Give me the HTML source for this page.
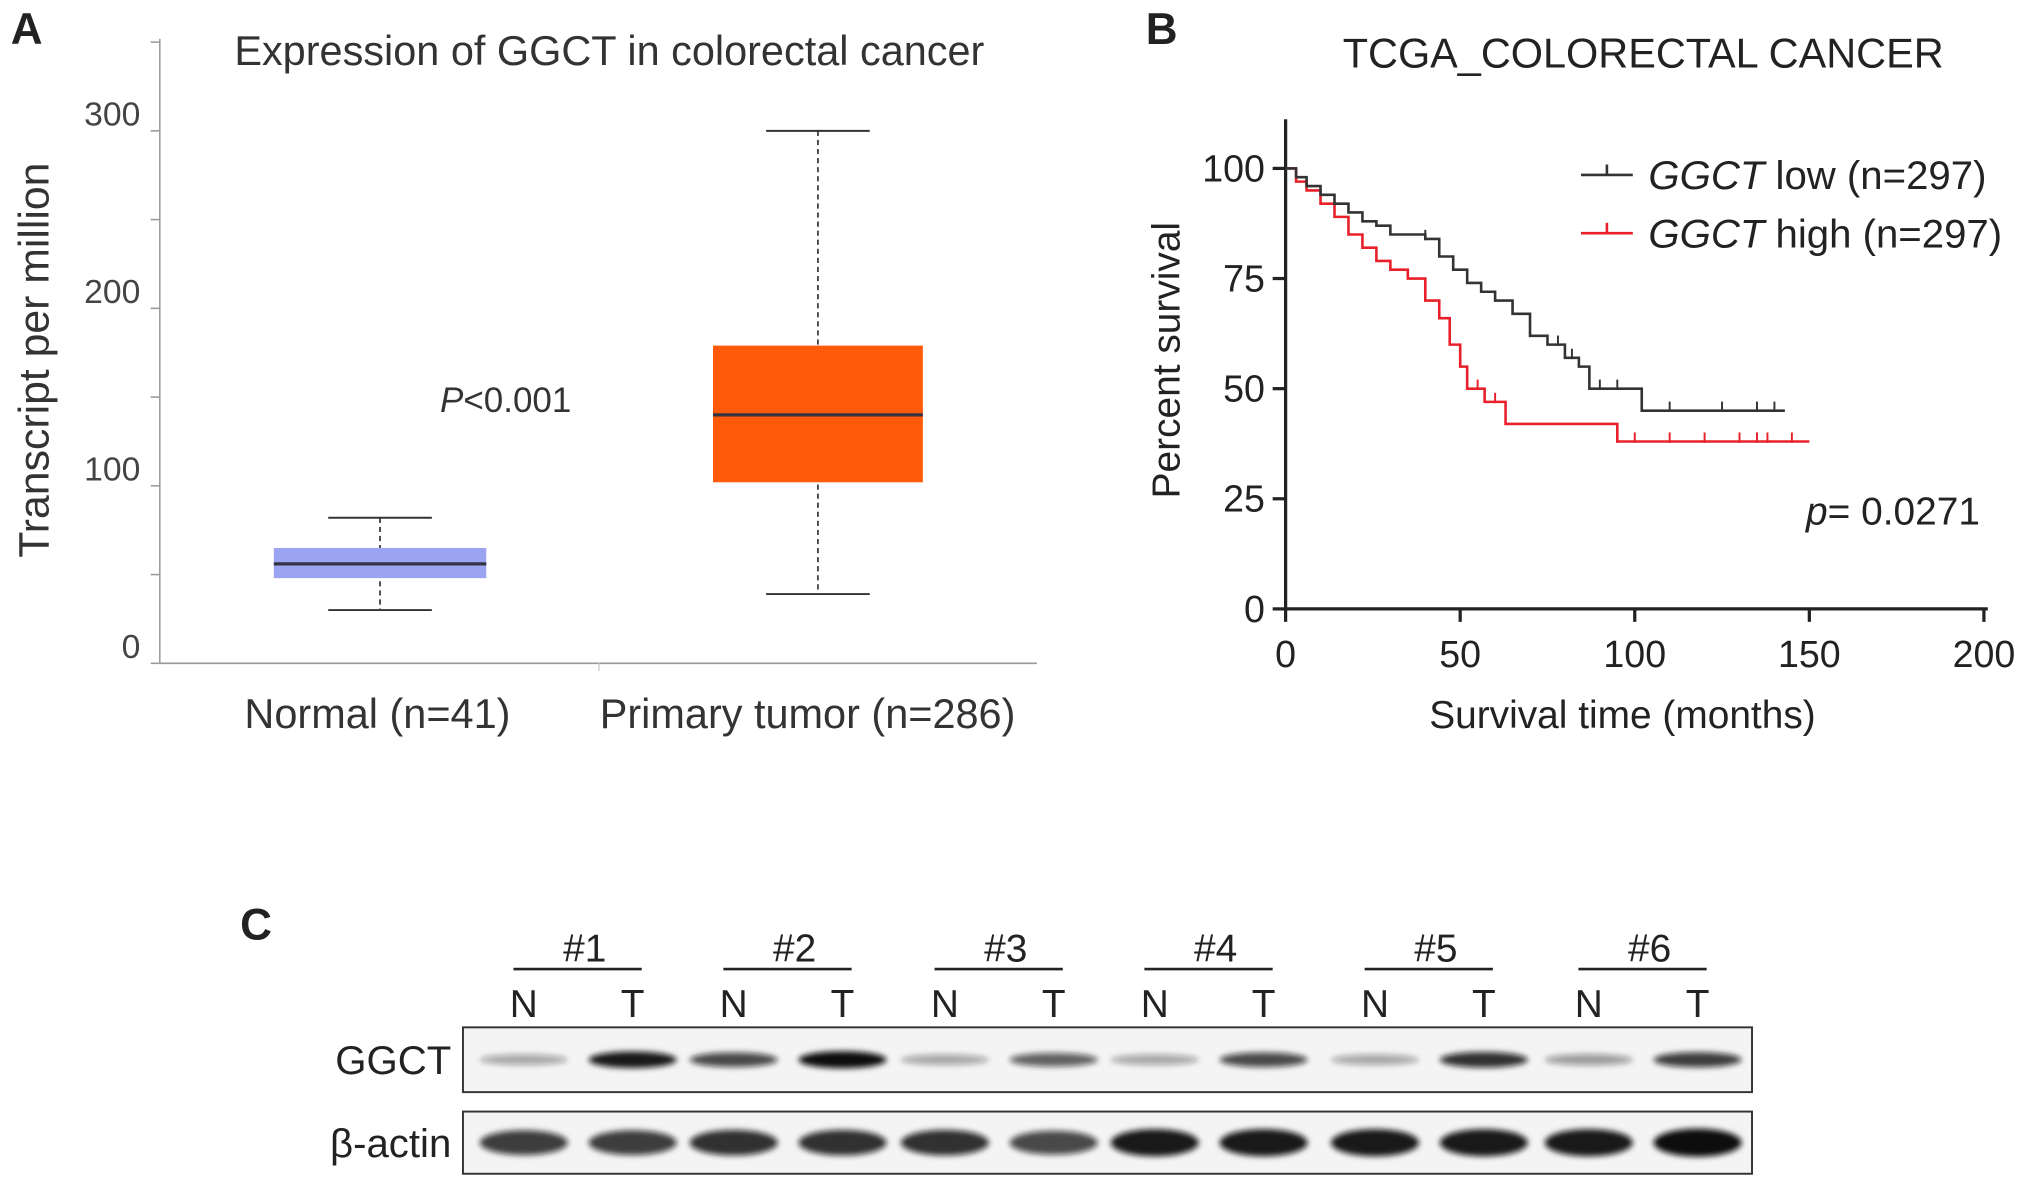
<!DOCTYPE html>
<html><head><meta charset="utf-8"><style>
html,body{margin:0;padding:0;background:#fff}
svg{display:block}
text{font-family:"Liberation Sans",sans-serif}
</style></head><body>
<svg id="fig" width="2031" height="1188" viewBox="0 0 1567 917">
<defs><filter id="blur" x="-20%" y="-100%" width="140%" height="300%"><feGaussianBlur stdDeviation="2.2"/></filter></defs>
<g id="pa"></g>
<g id="pb"></g>
<g id="pc"></g>
</svg>
<script>
// Panel A data
const boxCats = ["Normal (n=41)", "Primary tumor (n=286)"];
const boxMin = [30, 39];
const boxQ1 = [48, 102];
const boxMed = [56, 140];
const boxQ3 = [65, 179];
const boxMax = [82, 300];
const boxColors = ["#9aa4f0", "#ff5a0a"];
const aTicks = [0, 100, 200, 300];
// Panel B data
const lowT = [0,3,6,10,14,18,22,26,30,35,40,44,48,52,56,60,65,70,75,80,84,87,100,102,143];
const lowS = [100,98,96,94,92,90,88,87,85,85,84,80,77,74,72,70,67,62,60,57,55,50,50,45,45];
const highT = [0,3,6,10,14,18,22,26,30,35,40,44,47,50,52,57,63,93,95,150];
const highS = [100,97,95,92,89,85,82,79,77,75,70,66,60,55,50,47,42,42,38,38];
const lowCens = [40,60,70,78,82,90,95,110,125,135,140];
const highCens = [55,60,95,100,110,120,130,135,138,145];
const bxTicks = [0,50,100,150,200];
const byTicks = [0,25,50,75,100];
// Panel C data
const samples = ["#1","#2","#3","#4","#5","#6"];
const ggctN = [0.35,0.75,0.35,0.35,0.35,0.4];
const ggctT = [0.95,1.0,0.65,0.75,0.85,0.8];
const actinN = [0.8,0.85,0.85,0.95,0.95,0.95];
const actinT = [0.8,0.85,0.75,0.95,0.95,1.0];

const NS="http://www.w3.org/2000/svg";
function el(p,tag,attrs,txt){const e=document.createElementNS(NS,tag);for(const k in attrs)e.setAttribute(k,attrs[k]);if(txt!==undefined)e.textContent=txt;p.appendChild(e);return e;}

// ---- Panel A
const pa=document.getElementById('pa');
const ay=v=>512-v*1.37;
const ax=i=>293+i*338;
let t=el(pa,'text',{x:8,y:34,'font-size':34,'font-weight':'bold',fill:'#222'},'A');

t=el(pa,'text',{x:470,y:50,'font-size':32,'text-anchor':'middle',fill:'#333'},'Expression of GGCT in colorectal cancer');

el(pa,'line',{x1:123,y1:30,x2:123,y2:512,stroke:'#999','stroke-width':1.2});
el(pa,'line',{x1:123,y1:512,x2:800,y2:512,stroke:'#999','stroke-width':1.2});
el(pa,'line',{x1:462,y1:512,x2:462,y2:518,stroke:'#ccc','stroke-width':1});
for(let v=0;v<=350;v+=50){el(pa,'line',{x1:116,y1:ay(v),x2:123,y2:ay(v),stroke:'#999','stroke-width':1.2});}
aTicks.forEach(v=>{const e=el(pa,'text',{x:108,y:ay(v)-4,'font-size':26,'text-anchor':'end',fill:'#444'},String(v));
});
t=el(pa,'text',{x:0,y:0,'font-size':33,'text-anchor':'middle',fill:'#333',transform:'translate(37,278) rotate(-90)'},'Transcript per million');

t=el(pa,'text',{x:390,y:318,'font-size':27,'text-anchor':'middle',fill:'#333'});
t.innerHTML='<tspan font-style="italic">P</tspan>&lt;0.001';

boxCats.forEach((c,i)=>{
 const cx=ax(i),hw=i==0?82:81;
 const g=el(pa,'g',{});
 el(g,'line',{x1:cx,y1:ay(boxMax[i]),x2:cx,y2:ay(boxMin[i]),stroke:'#333','stroke-width':1.3,'stroke-dasharray':'4,3'});
 el(g,'line',{x1:cx-40,y1:ay(boxMax[i]),x2:cx+40,y2:ay(boxMax[i]),stroke:'#333','stroke-width':1.5});
 el(g,'line',{x1:cx-40,y1:ay(boxMin[i]),x2:cx+40,y2:ay(boxMin[i]),stroke:'#333','stroke-width':1.5});
 el(g,'rect',{x:cx-hw,y:ay(boxQ3[i]),width:2*hw,height:ay(boxQ1[i])-ay(boxQ3[i]),fill:boxColors[i]});
 el(g,'line',{x1:cx-hw,y1:ay(boxMed[i]),x2:cx+hw,y2:ay(boxMed[i]),stroke:'#334','stroke-width':2.5});
 const l=el(pa,'text',{x:i==0?cx-2:cx-8,y:562,'font-size':32,'text-anchor':'middle',fill:'#333'},c);
 
});

// ---- Panel B
const pb=document.getElementById('pb');
const bx=v=>992+v*2.695, by=v=>470-v*3.4;
t=el(pb,'text',{x:884,y:34,'font-size':34,'font-weight':'bold',fill:'#222'},'B');

t=el(pb,'text',{x:1268,y:52,'font-size':32,'text-anchor':'middle',fill:'#222'},'TCGA_COLORECTAL CANCER');

el(pb,'line',{x1:992,y1:92,x2:992,y2:471,stroke:'#222','stroke-width':2.5});
el(pb,'line',{x1:991,y1:470,x2:1534,y2:470,stroke:'#222','stroke-width':2.5});
byTicks.forEach(v=>{el(pb,'line',{x1:982,y1:by(v),x2:992,y2:by(v),stroke:'#222','stroke-width':2.5});
 const e=el(pb,'text',{x:976,y:by(v)+10,'font-size':29,'text-anchor':'end',fill:'#222'},String(v));
 });
bxTicks.forEach(v=>{el(pb,'line',{x1:bx(v),y1:470,x2:bx(v),y2:480,stroke:'#222','stroke-width':2.5});
 const e=el(pb,'text',{x:bx(v),y:515,'font-size':29,'text-anchor':'middle',fill:'#222'},String(v));
 });
t=el(pb,'text',{x:1252,y:562,'font-size':30,'text-anchor':'middle',fill:'#222'},'Survival time (months)');

t=el(pb,'text',{x:0,y:0,'font-size':30,'text-anchor':'middle',fill:'#222',transform:'translate(910,278) rotate(-90)'},'Percent survival');

function step(T,S){let d='M'+bx(T[0])+','+by(S[0]);for(let i=1;i<T.length;i++){d+='H'+bx(T[i])+'V'+by(S[i]);}return d;}
function survAt(T,S,x){let s=S[0];for(let i=0;i<T.length;i++){if(T[i]<=x)s=S[i];}return s;}
function curve(T,S,C,col,name){
 const g=el(pb,'g',{});
 el(g,'path',{d:step(T,S),fill:'none',stroke:col,'stroke-width':2});
 C.forEach(c=>{const y=by(survAt(T,S,c));el(g,'line',{x1:bx(c),y1:y-7,x2:bx(c),y2:y+1,stroke:col,'stroke-width':1.5});});
}
curve(highT,highS,highCens,'#e8202a','curve-ggct-high');
curve(lowT,lowS,lowCens,'#333','curve-ggct-low');
[['#333','low',135],['#e8202a','high',180]].forEach(([c,lab,y])=>{
 const g=el(pb,'g',{});
 el(g,'line',{x1:1220,y1:y,x2:1260,y2:y,stroke:c,'stroke-width':2});
 el(g,'line',{x1:1240,y1:y-8,x2:1240,y2:y,stroke:c,'stroke-width':2});
 const e=el(g,'text',{x:1272,y:y+11,'font-size':31,fill:'#222'});
 e.innerHTML='<tspan font-style="italic">GGCT</tspan> '+lab+' (n=297)';
});
t=el(pb,'text',{x:1528,y:405,'font-size':30,'text-anchor':'end',fill:'#222'});
t.innerHTML='<tspan font-style="italic">p</tspan>= 0.0271';


// ---- Panel C
const pc=document.getElementById('pc');
t=el(pc,'text',{x:185,y:725,'font-size':34,'font-weight':'bold',fill:'#222'},'C');

const groupX=[446,608,771,933,1103,1268];
const laneN=i=>groupX[i]-42, laneT=i=>groupX[i]+42;
const rows=[[793,843,ggctN,ggctT,'GGCT',818,5.5],[858,906,actinN,actinT,'β-actin',882,9]];
rows.forEach(([y0,y1,nv,tv,lab,yc,bh])=>{
 const g=el(pc,'g',{});
 el(g,'rect',{x:357,y:y0,width:995,height:y1-y0,fill:'#f4f4f4',stroke:'#333','stroke-width':1.5});
 const bg=el(g,'g',{filter:'url(#blur)'});
 samples.forEach((s,i)=>{
  [[laneN(i),nv[i]],[laneT(i),tv[i]]].forEach(([x,v])=>{
   el(bg,'ellipse',{cx:x,cy:yc,rx:34,ry:bh*(0.5+v*0.7),fill:'#111','fill-opacity':Math.min(1,v)});
  });
 });
 const e=el(pc,'text',{x:348,y:yc+11,'font-size':31,'text-anchor':'end',fill:'#222'},lab);
 
});
samples.forEach((s,i)=>{
 const g=el(pc,'g',{});
 el(g,'text',{x:groupX[i]+5,y:742,'font-size':30,'text-anchor':'middle',fill:'#222'},s);
 el(g,'line',{x1:groupX[i]-50,y1:748,x2:groupX[i]+49,y2:748,stroke:'#222','stroke-width':2});
 el(g,'text',{x:laneN(i),y:785,'font-size':30,'text-anchor':'middle',fill:'#222'},'N');
 el(g,'text',{x:laneT(i),y:785,'font-size':30,'text-anchor':'middle',fill:'#222'},'T');
});
</script>
</body></html>
